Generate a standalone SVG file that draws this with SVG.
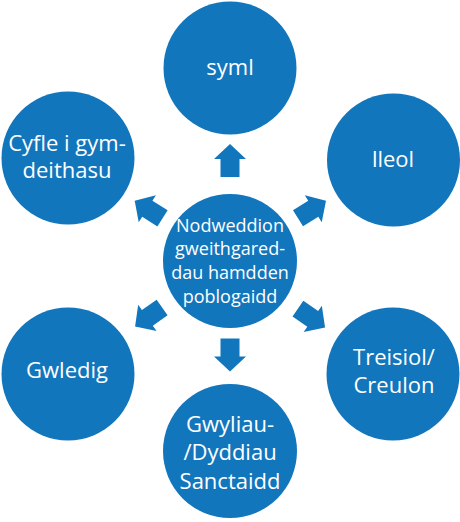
<svg xmlns="http://www.w3.org/2000/svg" width="460" height="522" viewBox="0 0 460 522">
<style>
.n{fill:#1276bd}
.t{fill:#ffffff;font-family:"Open Sans","Noto Sans",sans-serif;text-anchor:middle}
.o{font-size:22px}
.c{font-size:18px}
.a{fill:#1276bd}
</style>
<defs>
<path id="arr" d="M-16.5,-9.5 L1.5,-9.5 L1.5,-16 L16.5,0 L1.5,16 L1.5,9.5 L-16.5,9.5 Z"/>
</defs>
<g id="connectors">
<use href="#arr" class="a" transform="translate(230,160.5) rotate(-90)"/>
<use href="#arr" class="a" transform="translate(312,209.5) rotate(-32)"/>
<use href="#arr" class="a" transform="translate(311.5,318) rotate(34.7)"/>
<use href="#arr" class="a" transform="translate(230,355) rotate(90)"/>
<use href="#arr" class="a" transform="translate(148.6,317) rotate(145)"/>
<use href="#arr" class="a" transform="translate(148.6,209.5) rotate(-147.5)"/>
</g>
<g id="center">
<circle class="n" cx="230" cy="261" r="67"/>
<text class="t c" x="230" y="231.5">Nodweddion</text>
<text class="t c" x="230" y="255">gweithgared-</text>
<text class="t c" x="230" y="279">dau hamdden</text>
<text class="t c" x="230" y="302.5">poblogaidd</text>
</g>
<g id="syml">
<circle class="n" cx="230" cy="68" r="66.5"/>
<text class="t o" x="230" y="75">syml</text>
</g>
<g id="lleol">
<circle class="n" cx="393.5" cy="160" r="66.5"/>
<text class="t o" x="393" y="166.5">lleol</text>
</g>
<g id="treisiol">
<circle class="n" cx="393" cy="374" r="66.5"/>
<text class="t o" x="394" y="365">Treisiol/</text>
<text class="t o" x="394" y="393">Creulon</text>
</g>
<g id="gwyliau">
<circle class="n" cx="230" cy="451" r="67"/>
<text class="t o" x="230" y="431.5">Gwyliau-</text>
<text class="t o" x="230" y="460">/Dyddiau</text>
<text class="t o" x="230" y="488.5">Sanctaidd</text>
</g>
<g id="gwledig">
<circle class="n" cx="68" cy="374" r="66.5"/>
<text class="t o" x="67" y="377.5">Gwledig</text>
</g>
<g id="cyfle">
<circle class="n" cx="68" cy="158" r="66.5"/>
<text class="t o" x="67" y="150.5">Cyfle i gym-</text>
<text class="t o" x="67" y="178">deithasu</text>
</g>
</svg>
